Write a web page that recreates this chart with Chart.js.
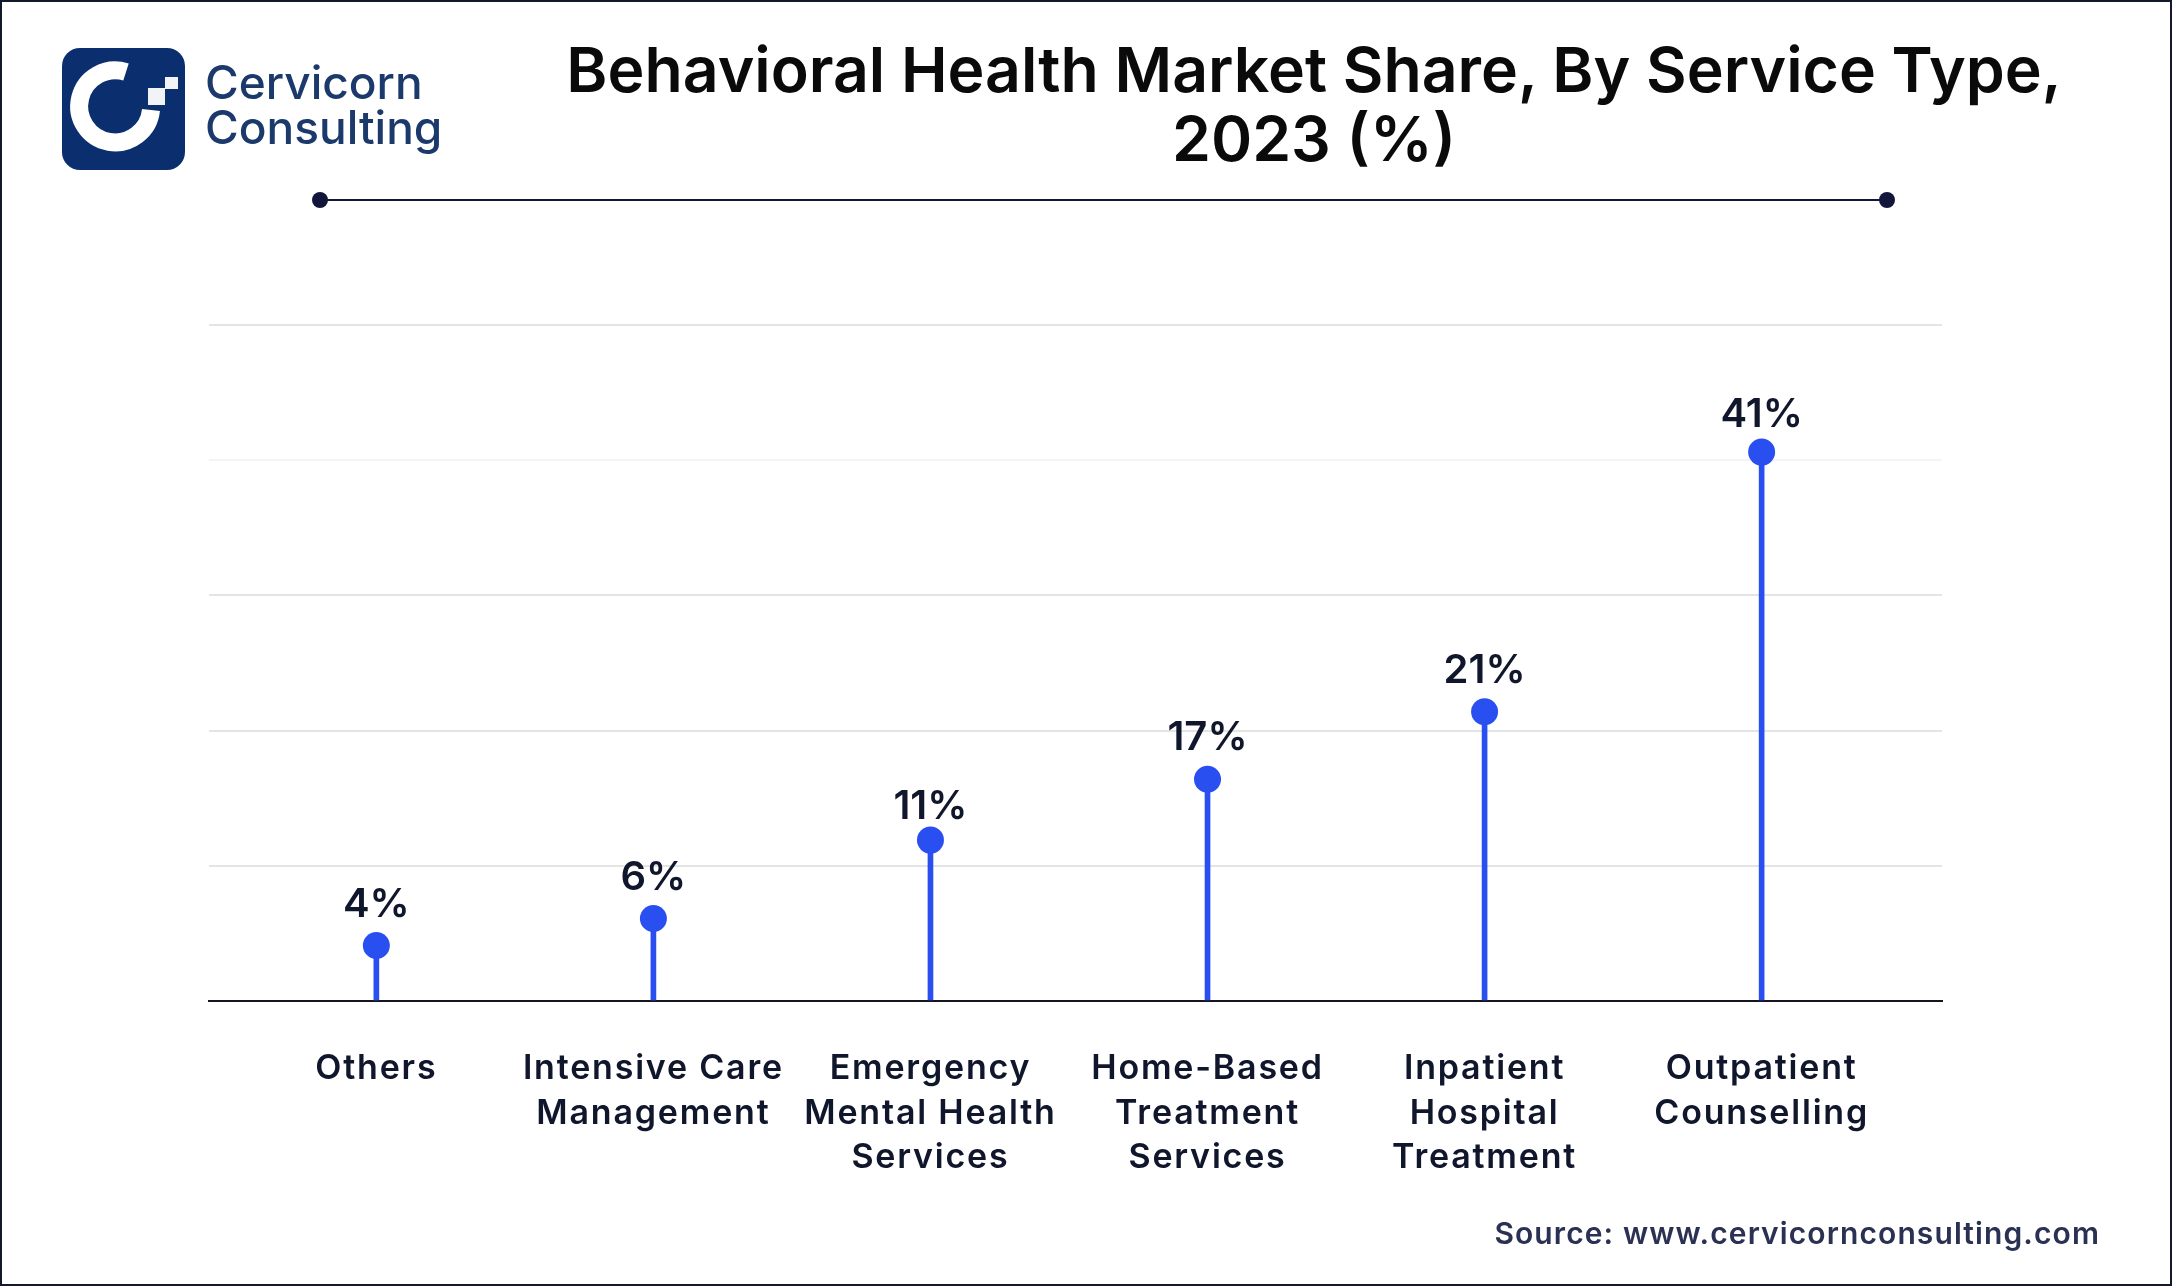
<!DOCTYPE html>
<html>
<head>
<meta charset="utf-8">
<title>Behavioral Health Market Share</title>
<script src="https://cdn.jsdelivr.net/npm/chart.js@4"></script>
<style>
  html, body { margin: 0; padding: 0; background: #fff; }
  #page { position: relative; width: 2172px; height: 1286px; overflow: hidden; background: #fff; box-sizing: border-box; font-family: Inter, sans-serif; }
  #frame { position: absolute; inset: 0; border: 2px solid #14182b; box-sizing: border-box; pointer-events: none; }
  #chart { position: absolute; left: 0; top: 0; }
  #title { position: absolute; left: 514px; width: 1600px; top: 35px; text-align: center; font-weight: 600; font-size: 62.5px; line-height: 69px; color: #0a0a0a; }
  #logo { position: absolute; left: 62px; top: 48px; }
  .brand { position: absolute; left: 205px; font-size: 46px; line-height: 50px; color: #1b3a6b; font-weight: 500; }
  #rule { position: absolute; left: 320px; top: 199px; width: 1566px; height: 2px; background: #12163a; }
  .dot { position: absolute; top: 192px; width: 16px; height: 16px; border-radius: 50%; background: #12163a; }
  #source { position: absolute; right: 72px; top: 1214px; font-size: 30px; line-height: 38px; font-weight: 600; letter-spacing: 1.1px; color: #2a3152; }
</style>
</head>
<body>
<div id="page">
  <canvas id="chart" width="2172" height="1286"></canvas>
  <div id="title">Behavioral Health Market Share, By Service Type,<br>2023 (%)</div>
  <svg id="logo" width="123" height="122" viewBox="0 0 123 122">
    <rect width="123" height="122" rx="18" fill="#0b2f6e"/>
    <path d="M 64 24 A 36 36 0 1 0 89 62" fill="none" stroke="#fff" stroke-width="18"/>
    <rect x="86" y="40" width="17" height="17" fill="#f1f3f7"/>
    <rect x="103" y="29" width="13" height="12" fill="#f1f3f7"/>
  </svg>
  <div class="brand" style="top:57px">Cervicorn</div>
  <div class="brand" style="top:102px">Consulting</div>
  <div id="rule"></div>
  <div class="dot" style="left:312px"></div>
  <div class="dot" style="left:1879px"></div>
  <div id="source">Source: www.cervicornconsulting.com</div>
  <div id="frame"></div>
</div>
<script>
// categories and printed shares, as in the picture
const categories = [
    'Others',
    ['Intensive Care', 'Management'],
    ['Emergency', 'Mental Health', 'Services'],
    ['Home-Based', 'Treatment', 'Services'],
    ['Inpatient', 'Hospital', 'Treatment'],
    ['Outpatient', 'Counselling']
];
const shareLabels = ['4%', '6%', '11%', '17%', '21%', '41%'];
// marker heights
const markerLevels = [4.1, 6.1, 11.9, 16.4, 21.4, 40.6];
const gridTicks = [0, 10, 20, 30, 40, 50];

const points = markerLevels.map((v, i) => ({ x: i, y: v }));

// --- labels above the markers ---
const shareLabelPlugin = {
    id: 'shareLabels',
    beforeDraw(chart) {
        chart.ctx.letterSpacing = '1.8px';
    },
    afterDatasetsDraw(chart) {
        const ctx = chart.ctx;
        const meta = chart.getDatasetMeta(1);
        ctx.save();
        ctx.letterSpacing = '0px';
        ctx.font = '600 40px Inter';
        ctx.fillStyle = '#10162b';
        ctx.textAlign = 'center';
        ctx.textBaseline = 'middle';
        // 11% and 41% sit closer to their markers in the original
        meta.data.forEach((el, i) => {
            const gap = i === 2 ? 33 : i === 5 ? 37 : 41;
            ctx.fillText(shareLabels[i], el.x, el.y - gap);
        });
        ctx.restore();
    }
};

new Chart(document.getElementById('chart'), {
    type: 'bar',
    plugins: [shareLabelPlugin],
    data: {
        datasets: [
            { type: 'bar', data: points, backgroundColor: '#2a4ff0', barThickness: 5, order: 2 },
            { type: 'line', data: points, showLine: false, pointRadius: 13.5, pointBackgroundColor: '#2a4ff0', pointBorderWidth: 0, order: 1 }
        ]
    },
    options: {
        responsive: false,
        animation: false,
        layout: { padding: { left: 209, right: 230, top: 325, bottom: 0 } },
        plugins: { legend: { display: false }, tooltip: { enabled: false } },
        scales: {
            x: {
                type: 'linear',
                offset: false,
                min: -0.604,
                max: 5.651,
                afterBuildTicks: (scale) => { scale.ticks = categories.map((_, i) => ({ value: i })); },
                afterFit: (scale) => { scale.height = 285; },
                grid: { display: false },
                border: { color: '#15151f', width: 2 },
                ticks: {
                    autoSkip: false,
                    maxRotation: 0,
                    padding: 37,
                    color: '#10162b',
                    font: { family: 'Inter', size: 34, weight: '600', lineHeight: 1.32 },
                    callback: (v) => categories[v]
                }
            },
            y: {
                min: 0,
                max: 50,
                afterBuildTicks: (scale) => { scale.ticks = gridTicks.map(v => ({ value: v })); },
                afterFit: (scale) => { scale.width = 0; },
                grid: { color: (c) => c.tick.value === 40 ? '#f5f4f2' : '#e4e4e4', lineWidth: 2, drawTicks: false },
                border: { display: false },
                ticks: { display: false }
            }
        }
    }
});
</script>
</body>
</html>
